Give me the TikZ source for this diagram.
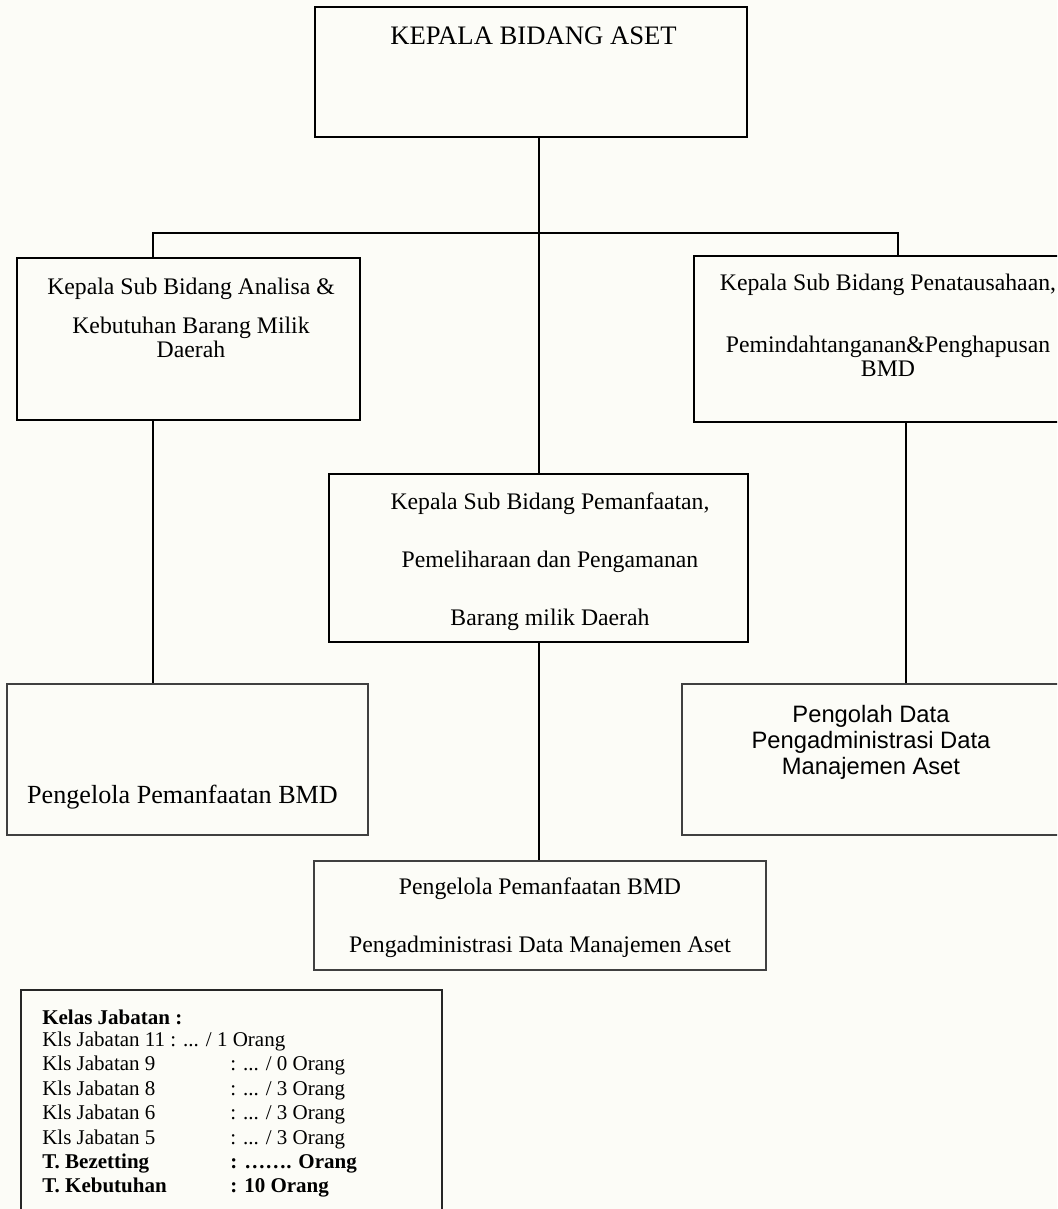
\documentclass[tikz,border=0pt]{standalone}
\usepackage{fontspec}
\setmainfont{Liberation Serif}
\newfontfamily\arialfont{Liberation Sans}
\usetikzlibrary{fit}
\definecolor{latar}{RGB}{252,252,247}

\begin{document}
\begin{tikzpicture}[x=0.75pt, y=-0.75pt,
    kotak/.style={draw, line width=2pt, inner sep=0pt},
    kotaktipis/.style={draw=black!75, line width=1pt, inner sep=0pt},
    kotakkelas/.style={draw=black!85, line width=1.3pt, inner sep=0pt},
    garis/.style={line width=1.5pt},
    teks/.style={inner sep=0pt, anchor=base, font=\fontsize{17.8}{18}\selectfont}]

    % 1. Page frame (right-hand boxes run off the edge)
    \useasboundingbox (0,0) rectangle (1057,1209);
    \clip (0,0) rectangle (1057,1209);
    \fill[latar] (0,0) rectangle (1057,1209);

    % 2. Boxes
    \node[kotak, fit={(315,7) (747,137)}] (kabid) {};
    \node[kotak, fit={(17,258) (360,420)}] (kasubkiri) {};
    \node[kotak, fit={(694,256) (1080,422)}] (kasubkanan) {};
    \node[kotak, fit={(329,474) (748,642)}] (kasubtengah) {};
    \node[kotaktipis, fit={(7,684) (368,835)}] (pengelolakiri) {};
    \node[kotaktipis, fit={(682,684) (1080,835)}] (pengolahkanan) {};
    \node[kotaktipis, fit={(314,861) (766,970)}] (pengelolatengah) {};
    \node[kotakkelas, fit={(21,990) (442,1230)}] (kelas) {};

    % 3. Texts
    \node[teks, font=\fontsize{20}{24}\selectfont] (tkabid) at (533.5,45) {KEPALA BIDANG ASET};
    \node[teks] (tkasubkiri) at (191,294) {\begin{tabular}[t]{@{}c@{}}
        Kepala Sub Bidang Analisa \&\\[11.25pt]
        Kebutuhan Barang Milik\\
        Daerah\end{tabular}};
    \node[teks] (tkasubkanan) at (888,290) {\begin{tabular}[t]{@{}c@{}}
        Kepala Sub Bidang Penatausahaan,\\[28.5pt]
        Pemindahtanganan\&Penghapusan\\
        BMD\end{tabular}};
    \node[teks] (tkasubtengah) at (550,509) {\begin{tabular}[t]{@{}c@{}}
        Kepala Sub Bidang Pemanfaatan,\\[25.5pt]
        Pemeliharaan dan Pengamanan\\[25.5pt]
        Barang milik Daerah\end{tabular}};
    \node[teks, font=\fontsize{19.6}{24}\selectfont] (tpengelolakiri) at (182.5,803) {Pengelola Pemanfaatan BMD};
    \node[teks, font=\arialfont\fontsize{17.8}{19.5}\selectfont] (tpengolahkanan) at (871,722) {\begin{tabular}[t]{@{}c@{}}
        Pengolah Data\\
        Pengadministrasi Data\\
        Manajemen Aset\end{tabular}};
    \node[teks] (tpengelolatengah) at (540,894) {\begin{tabular}[t]{@{}c@{}}
        Pengelola Pemanfaatan BMD\\[25.5pt]
        Pengadministrasi Data Manajemen Aset\end{tabular}};
    \node[inner sep=0pt, anchor=base west, font=\fontsize{15.75}{18.3}\selectfont] (tkelas) at (42,1024) {\begin{tabular}[t]{@{}p{141pt}@{}l@{}}
        \multicolumn{2}{@{}l@{}}{\textbf{Kelas Jabatan :}}\\[-1.4pt]
        \multicolumn{2}{@{}l@{}}{Kls Jabatan 11 : ... / 1 Orang}\\
        Kls Jabatan 9 & : ... / 0 Orang\\
        Kls Jabatan 8 & : ... / 3 Orang\\
        Kls Jabatan 6 & : ... / 3 Orang\\
        Kls Jabatan 5 & : ... / 3 Orang\\
        \textbf{T. Bezetting} & \textbf{: ……. Orang}\\
        \textbf{T. Kebutuhan} & \textbf{: 10 Orang}\end{tabular}};

    % 4. Connectors
    \coordinate (turunkiri) at (153,233);
    \coordinate (turunkanan) at (898,233);
    \coordinate (sambungkanan) at (906,500);
    \draw[garis] (kasubtengah.north |- kabid.south) -- (kasubtengah.north);
    \draw[garis] (turunkiri |- kasubkiri.north) -- (turunkiri) -- (turunkanan) -- (turunkanan |- kasubkanan.north);
    \draw[garis] (turunkiri |- kasubkiri.south) -- (turunkiri |- pengelolakiri.north);
    \draw[garis] (sambungkanan |- kasubkanan.south) -- (sambungkanan |- pengolahkanan.north);
    \draw[garis] (kasubtengah.south) -- (kasubtengah.south |- pengelolatengah.north);
\end{tikzpicture}
\end{document}
